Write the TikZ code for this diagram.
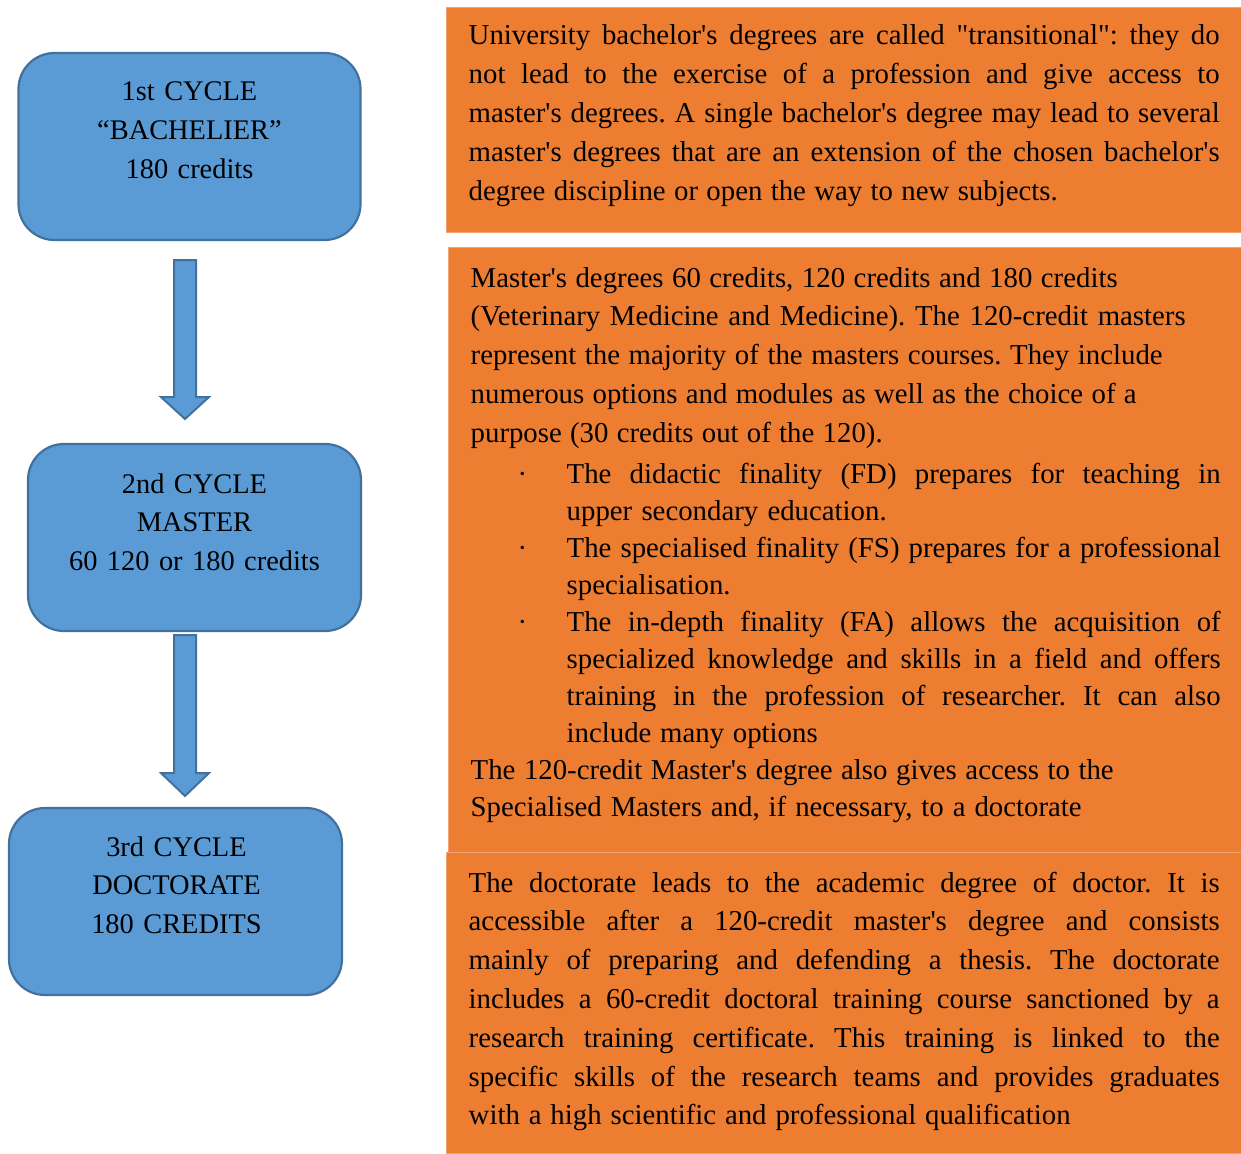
\documentclass[tikz,border=0pt]{standalone}
\usepackage{fontspec}
\setmainfont{Liberation Serif}
\usetikzlibrary{calc}

\definecolor{cycleblue}{HTML}{5B9BD5}
\definecolor{cycleedge}{HTML}{41719C}
\definecolor{infoorange}{HTML}{ED7D31}
\definecolor{infoedge}{HTML}{F2A272}

% straight apostrophe and straight double quote
\newcommand\sq{\textquotesingle}
\newcommand\dq{\textquotedbl}
% a block of set lines, #1 wide, baseline at its first line
\newcommand\lineblock[2]{\vtop{\hsize=#1\relax\parindent=0pt #2}}
% one printed line each: justified to the block, or set to a given width
\newcommand\jl[1]{\hbox to \hsize{#1}}
\newcommand\wl[2]{\hbox to #1pt{#2}}
% bullet lines: first line of an item, justified continuation, shorter continuation
\newcommand\bfirst[1]{\hbox to \hsize{\hbox to 96pt{\hskip 47pt ·\hfil}#1}}
\newcommand\bnext[1]{\hbox to \hsize{\hskip 96pt #1}}
\newcommand\bnextw[2]{\hbox to #1pt{\hskip 96pt #2}}

\tikzset{
  cyclebox/.style={draw=cycleedge, line width=2.2pt, fill=cycleblue,
    rounded corners=36pt, inner sep=0pt},
  infobox/.style={fill=infoorange, draw=infoedge, line width=0.8pt,
    inner sep=0pt, anchor=north west},
  boxtext/.style={inner sep=0pt, anchor=base, text width=330pt, align=center,
    font=\fontsize{28.4}{38.8}\selectfont\frenchspacing},
  infotext/.style={inner sep=0pt, anchor=base west,
    font=\fontsize{28.8}{38.8}\selectfont\frenchspacing},
  listtext/.style={infotext, font=\fontsize{28.8}{37}\selectfont\frenchspacing},
  flowarrow/.style={draw=cycleedge, line width=2pt, fill=cycleblue, line join=miter}
}

\begin{document}
\begin{tikzpicture}[x=1pt, y=-1pt]
\useasboundingbox (0,0) rectangle (1241,1153);

% ---- cycle boxes ----
\node[cyclebox, minimum width=342pt, minimum height=187pt] (c1) at (189.5,146.5) {};
\node[cyclebox, minimum width=333pt, minimum height=187pt] (c2) at (194.5,537.5) {};
\node[cyclebox, minimum width=333pt, minimum height=187pt] (c3) at (175.5,901.5) {};

\node[boxtext] (c1t) at (189.5,101) {1st CYCLE\\“BACHELIER”\\180 credits};
\node[boxtext] (c2t) at (194.5,493) {2nd CYCLE\\MASTER\\60 120 or 180 credits};
\node[boxtext] (c3t) at (176.5,856) {3rd CYCLE\\DOCTORATE\\180 CREDITS};

% ---- block arrows between cycles ----
\coordinate (a1s) at (185,260);
\coordinate (a1e) at (185,419);
\coordinate (a2s) at (185,635);
\coordinate (a2e) at (185,796);
\draw[flowarrow] ($(a1s)+(-11,0)$) -- ($(a1s)+(11,0)$) -- ($(a1e)+(11,-22)$)
  -- ($(a1e)+(24,-22)$) -- (a1e) -- ($(a1e)+(-24,-22)$) -- ($(a1e)+(-11,-22)$) -- cycle;
\draw[flowarrow] ($(a2s)+(-11,0)$) -- ($(a2s)+(11,0)$) -- ($(a2e)+(11,-23)$)
  -- ($(a2e)+(24,-23)$) -- (a2e) -- ($(a2e)+(-24,-23)$) -- ($(a2e)+(-11,-23)$) -- cycle;

% ---- description panels ----
\node[infobox, minimum width=795pt, minimum height=225pt] (ia) at (446,7) {};
\node[infobox, minimum width=793pt, minimum height=605pt] (ib) at (448,247) {};
\node[infobox, minimum width=795pt, minimum height=301pt] (ic) at (446,852) {};

\node[infotext] (iat) at (468.5,45) {\lineblock{751pt}{%
\jl{University bachelor\sq s degrees are called \dq transitional\dq: they do}
\jl{not lead to the exercise of a profession and give access to}
\jl{master\sq s degrees. A single bachelor\sq s degree may lead to several}
\jl{master\sq s degrees that are an extension of the chosen bachelor\sq s}
\wl{589}{degree discipline or open the way to new subjects.}}};

\node[infotext] (ibt) at (470.5,287) {\lineblock{750pt}{%
\wl{647}{Master\sq s degrees 60 credits, 120 credits and 180 credits}
\wl{715}{(Veterinary Medicine and Medicine). The 120-credit masters}
\wl{692}{represent the majority of the masters courses. They include}
\wl{666}{numerous options and modules as well as the choice of a}
\wl{412}{purpose (30 credits out of the 120).}}};

\node[listtext] (ibl) at (470.5,483) {\lineblock{750pt}{%
\bfirst{The didactic finality (FD) prepares for teaching in}
\bnextw{416}{upper secondary education.}
\bfirst{The specialised finality (FS) prepares for a professional}
\hbox{\hskip 96pt specialisation.}
\bfirst{The in-depth finality (FA) allows the acquisition of}
\bnext{specialized knowledge and skills in a field and offers}
\bnext{training in the profession of researcher. It can also}
\bnextw{347}{include many options}
\wl{643}{The 120-credit Master\sq s degree also gives access to the}
\wl{611}{Specialised Masters and, if necessary, to a doctorate}}};

\node[infotext] (ict) at (468.5,892) {\lineblock{751pt}{%
\jl{The doctorate leads to the academic degree of doctor. It is}
\jl{accessible after a 120-credit master\sq s degree and consists}
\jl{mainly of preparing and defending a thesis. The doctorate}
\jl{includes a 60-credit doctoral training course sanctioned by a}
\jl{research training certificate. This training is linked to the}
\jl{specific skills of the research teams and provides graduates}
\wl{602}{with a high scientific and professional qualification}}};

\end{tikzpicture}
\end{document}
